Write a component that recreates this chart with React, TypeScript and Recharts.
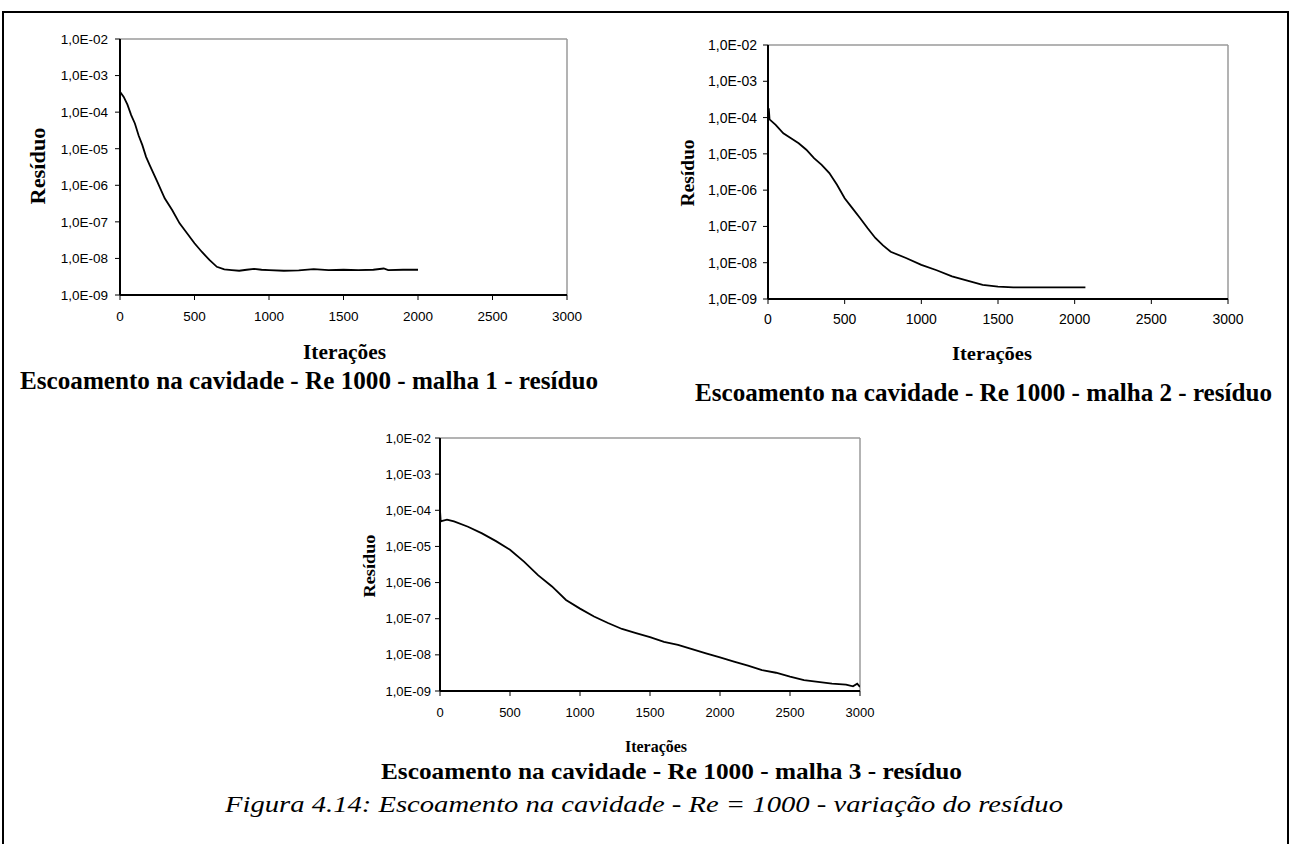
import { LineChart, Line, XAxis, YAxis, ReferenceLine } from "recharts";

const xTicks = [0, 500, 1000, 1500, 2000, 2500, 3000];
const yTicks = [1e-9, 1e-8, 1e-7, 1e-6, 1e-5, 1e-4, 1e-3, 1e-2];
const yTickLabels = ["1,0E-09", "1,0E-08", "1,0E-07", "1,0E-06", "1,0E-05", "1,0E-04", "1,0E-03", "1,0E-02"];

// malha 1
const iter1 = [0, 25, 50, 75, 100, 125, 150, 175, 200, 250, 300, 350, 400, 450, 500, 550, 600, 650, 700, 750, 800, 850, 900, 950, 1000, 1100, 1200, 1300, 1400, 1500, 1600, 1700, 1770, 1800, 1900, 2000];
const res1 = [3.6e-4, 2.6e-4, 1.6e-4, 8.3e-5, 4.9e-5, 2.3e-5, 1.25e-5, 6.0e-6, 3.5e-6, 1.25e-6, 4.4e-7, 2.1e-7, 9.1e-8, 4.9e-8, 2.6e-8, 1.5e-8, 9.1e-9, 5.9e-9, 5.0e-9, 4.8e-9, 4.6e-9, 4.9e-9, 5.2e-9, 4.9e-9, 4.8e-9, 4.6e-9, 4.7e-9, 5.1e-9, 4.8e-9, 4.9e-9, 4.8e-9, 4.9e-9, 5.3e-9, 4.8e-9, 4.9e-9, 4.9e-9];

// malha 2
const iter2 = [0, 5, 10, 50, 100, 150, 200, 250, 300, 350, 400, 450, 500, 550, 600, 650, 700, 750, 800, 900, 1000, 1100, 1200, 1300, 1400, 1500, 1600, 1800, 2000, 2070];
const res2 = [1.02e-4, 1.8e-4, 8.9e-5, 6.3e-5, 3.7e-5, 2.7e-5, 1.95e-5, 1.3e-5, 7.6e-6, 5.0e-6, 2.95e-6, 1.4e-6, 6.0e-7, 3.2e-7, 1.7e-7, 8.9e-8, 4.8e-8, 3.0e-8, 2.0e-8, 1.35e-8, 8.7e-9, 6.2e-9, 4.2e-9, 3.2e-9, 2.45e-9, 2.2e-9, 2.1e-9, 2.1e-9, 2.1e-9, 2.1e-9];

// malha 3
const iter3 = [0, 5, 10, 50, 100, 200, 300, 400, 500, 600, 700, 800, 900, 1000, 1100, 1200, 1300, 1400, 1500, 1600, 1700, 1800, 1900, 2000, 2100, 2200, 2300, 2400, 2500, 2600, 2700, 2800, 2900, 2950, 2980, 3000];
const res3 = [1.0e-4, 4.9e-5, 5.0e-5, 5.5e-5, 4.9e-5, 3.5e-5, 2.3e-5, 1.4e-5, 8.1e-6, 3.8e-6, 1.6e-6, 7.8e-7, 3.3e-7, 1.9e-7, 1.15e-7, 7.6e-8, 5.2e-8, 4.0e-8, 3.1e-8, 2.3e-8, 1.9e-8, 1.45e-8, 1.1e-8, 8.5e-9, 6.5e-9, 5.0e-9, 3.8e-9, 3.2e-9, 2.5e-9, 2.0e-9, 1.8e-9, 1.6e-9, 1.5e-9, 1.35e-9, 1.6e-9, 1.3e-9];

const toRows = (its: number[], rs: number[]) => its.map((it, i) => ({ it, r: rs[i] }));

const yLabel = (v: number) => {
  const i = yTicks.findIndex((t) => Math.abs(Math.log10(t) - Math.log10(v)) < 1e-6);
  return i >= 0 ? yTickLabels[i] : "";
};

type PanelProps = {
  rows: { it: number; r: number }[];
  left: number;
  top: number;
  width: number;
  height: number;
  mBottom: number;
  tickFont: number;
  xTickMargin: number;
  yTickMargin: number;
};

function Panel(p: PanelProps) {
  const tickStyle = { fontSize: p.tickFont, fill: "#000", fontFamily: "Liberation Sans" };
  return (
    <div style={{ position: "absolute", left: p.left, top: p.top }}>
      <LineChart
        width={p.width}
        height={p.height}
        data={p.rows}
        margin={{ top: 10, right: 25, left: 0, bottom: p.mBottom }}
      >
        <XAxis
          dataKey="it"
          type="number"
          domain={[0, 3000]}
          ticks={xTicks}
          height={24}
          tick={tickStyle}
          tickSize={5}
          tickMargin={p.xTickMargin}
          tickLine={{ stroke: "#000" }}
          axisLine={{ stroke: "#000", strokeWidth: 2 }}
          allowDataOverflow
        />
        <YAxis
          type="number"
          scale="log"
          domain={[1e-9, 1e-2]}
          ticks={yTicks}
          tickFormatter={yLabel}
          width={100}
          tick={tickStyle}
          tickSize={5}
          tickMargin={p.yTickMargin}
          tickLine={{ stroke: "#000" }}
          axisLine={{ stroke: "#000", strokeWidth: 2 }}
          allowDataOverflow
        />
        <ReferenceLine y={1e-2} stroke="#9a9a9a" strokeWidth={1.5} />
        <ReferenceLine x={3000} stroke="#9a9a9a" strokeWidth={1.5} />
        <Line
          type="linear"
          dataKey="r"
          stroke="#000"
          strokeWidth={1.8}
          dot={false}
          isAnimationActive={false}
        />
      </LineChart>
    </div>
  );
}

const serif = "Liberation Serif";

export default function App() {
  return (
    <div style={{ position: "absolute", left: 0, top: 0, width: 1291, height: 844, background: "#fff", overflow: "hidden" }}>
      <div
        style={{
          position: "absolute",
          left: 2,
          top: 11,
          width: 1283,
          height: 900,
          borderTop: "2px solid #000",
          borderLeft: "2px solid #000",
          borderRight: "2px solid #000",
        }}
      />
      <Panel rows={toRows(iter1, res1)} left={20} top={29} width={572} height={300} mBottom={10} tickFont={13.5} xTickMargin={11} yTickMargin={7} />
      <Panel rows={toRows(iter2, res2)} left={668} top={35} width={585} height={300} mBottom={12} tickFont={14} xTickMargin={10} yTickMargin={6} />
      <Panel rows={toRows(iter3, res3)} left={340} top={428} width={545} height={299} mBottom={12} tickFont={13} xTickMargin={12} yTickMargin={4} />
      <svg width={1291} height={844} style={{ position: "absolute", left: 0, top: 0, pointerEvents: "none" }}>
        <g fontFamily={serif} fontWeight="bold" fill="#000">
          <text x={303} y={359} fontSize={21} textLength={83} lengthAdjust="spacingAndGlyphs">Iterações</text>
          <text x={20} y={389} fontSize={25} textLength={578} lengthAdjust="spacingAndGlyphs">Escoamento na cavidade - Re 1000 - malha 1 - resíduo</text>
          <text transform="translate(45,166) rotate(-90)" textAnchor="middle" fontSize={21} textLength={77} lengthAdjust="spacingAndGlyphs">Resíduo</text>

          <text x={952} y={360} fontSize={19} textLength={80} lengthAdjust="spacingAndGlyphs">Iterações</text>
          <text x={695} y={401} fontSize={25} textLength={577} lengthAdjust="spacingAndGlyphs">Escoamento na cavidade - Re 1000 - malha 2 - resíduo</text>
          <text transform="translate(694,173) rotate(-90)" textAnchor="middle" fontSize={18} textLength={67} lengthAdjust="spacingAndGlyphs">Resíduo</text>

          <text x={625} y={752} fontSize={17} textLength={62} lengthAdjust="spacingAndGlyphs">Iterações</text>
          <text x={381} y={779} fontSize={24} textLength={581} lengthAdjust="spacingAndGlyphs">Escoamento na cavidade - Re 1000 - malha 3 - resíduo</text>
          <text transform="translate(375,566) rotate(-90)" textAnchor="middle" fontSize={17} textLength={63} lengthAdjust="spacingAndGlyphs">Resíduo</text>
        </g>
        <text x={225} y={812} fontFamily={serif} fontStyle="italic" fontSize={24} textLength={838} lengthAdjust="spacingAndGlyphs">
          Figura 4.14: Escoamento na cavidade - Re = 1000 - variação do resíduo
        </text>
      </svg>
    </div>
  );
}
